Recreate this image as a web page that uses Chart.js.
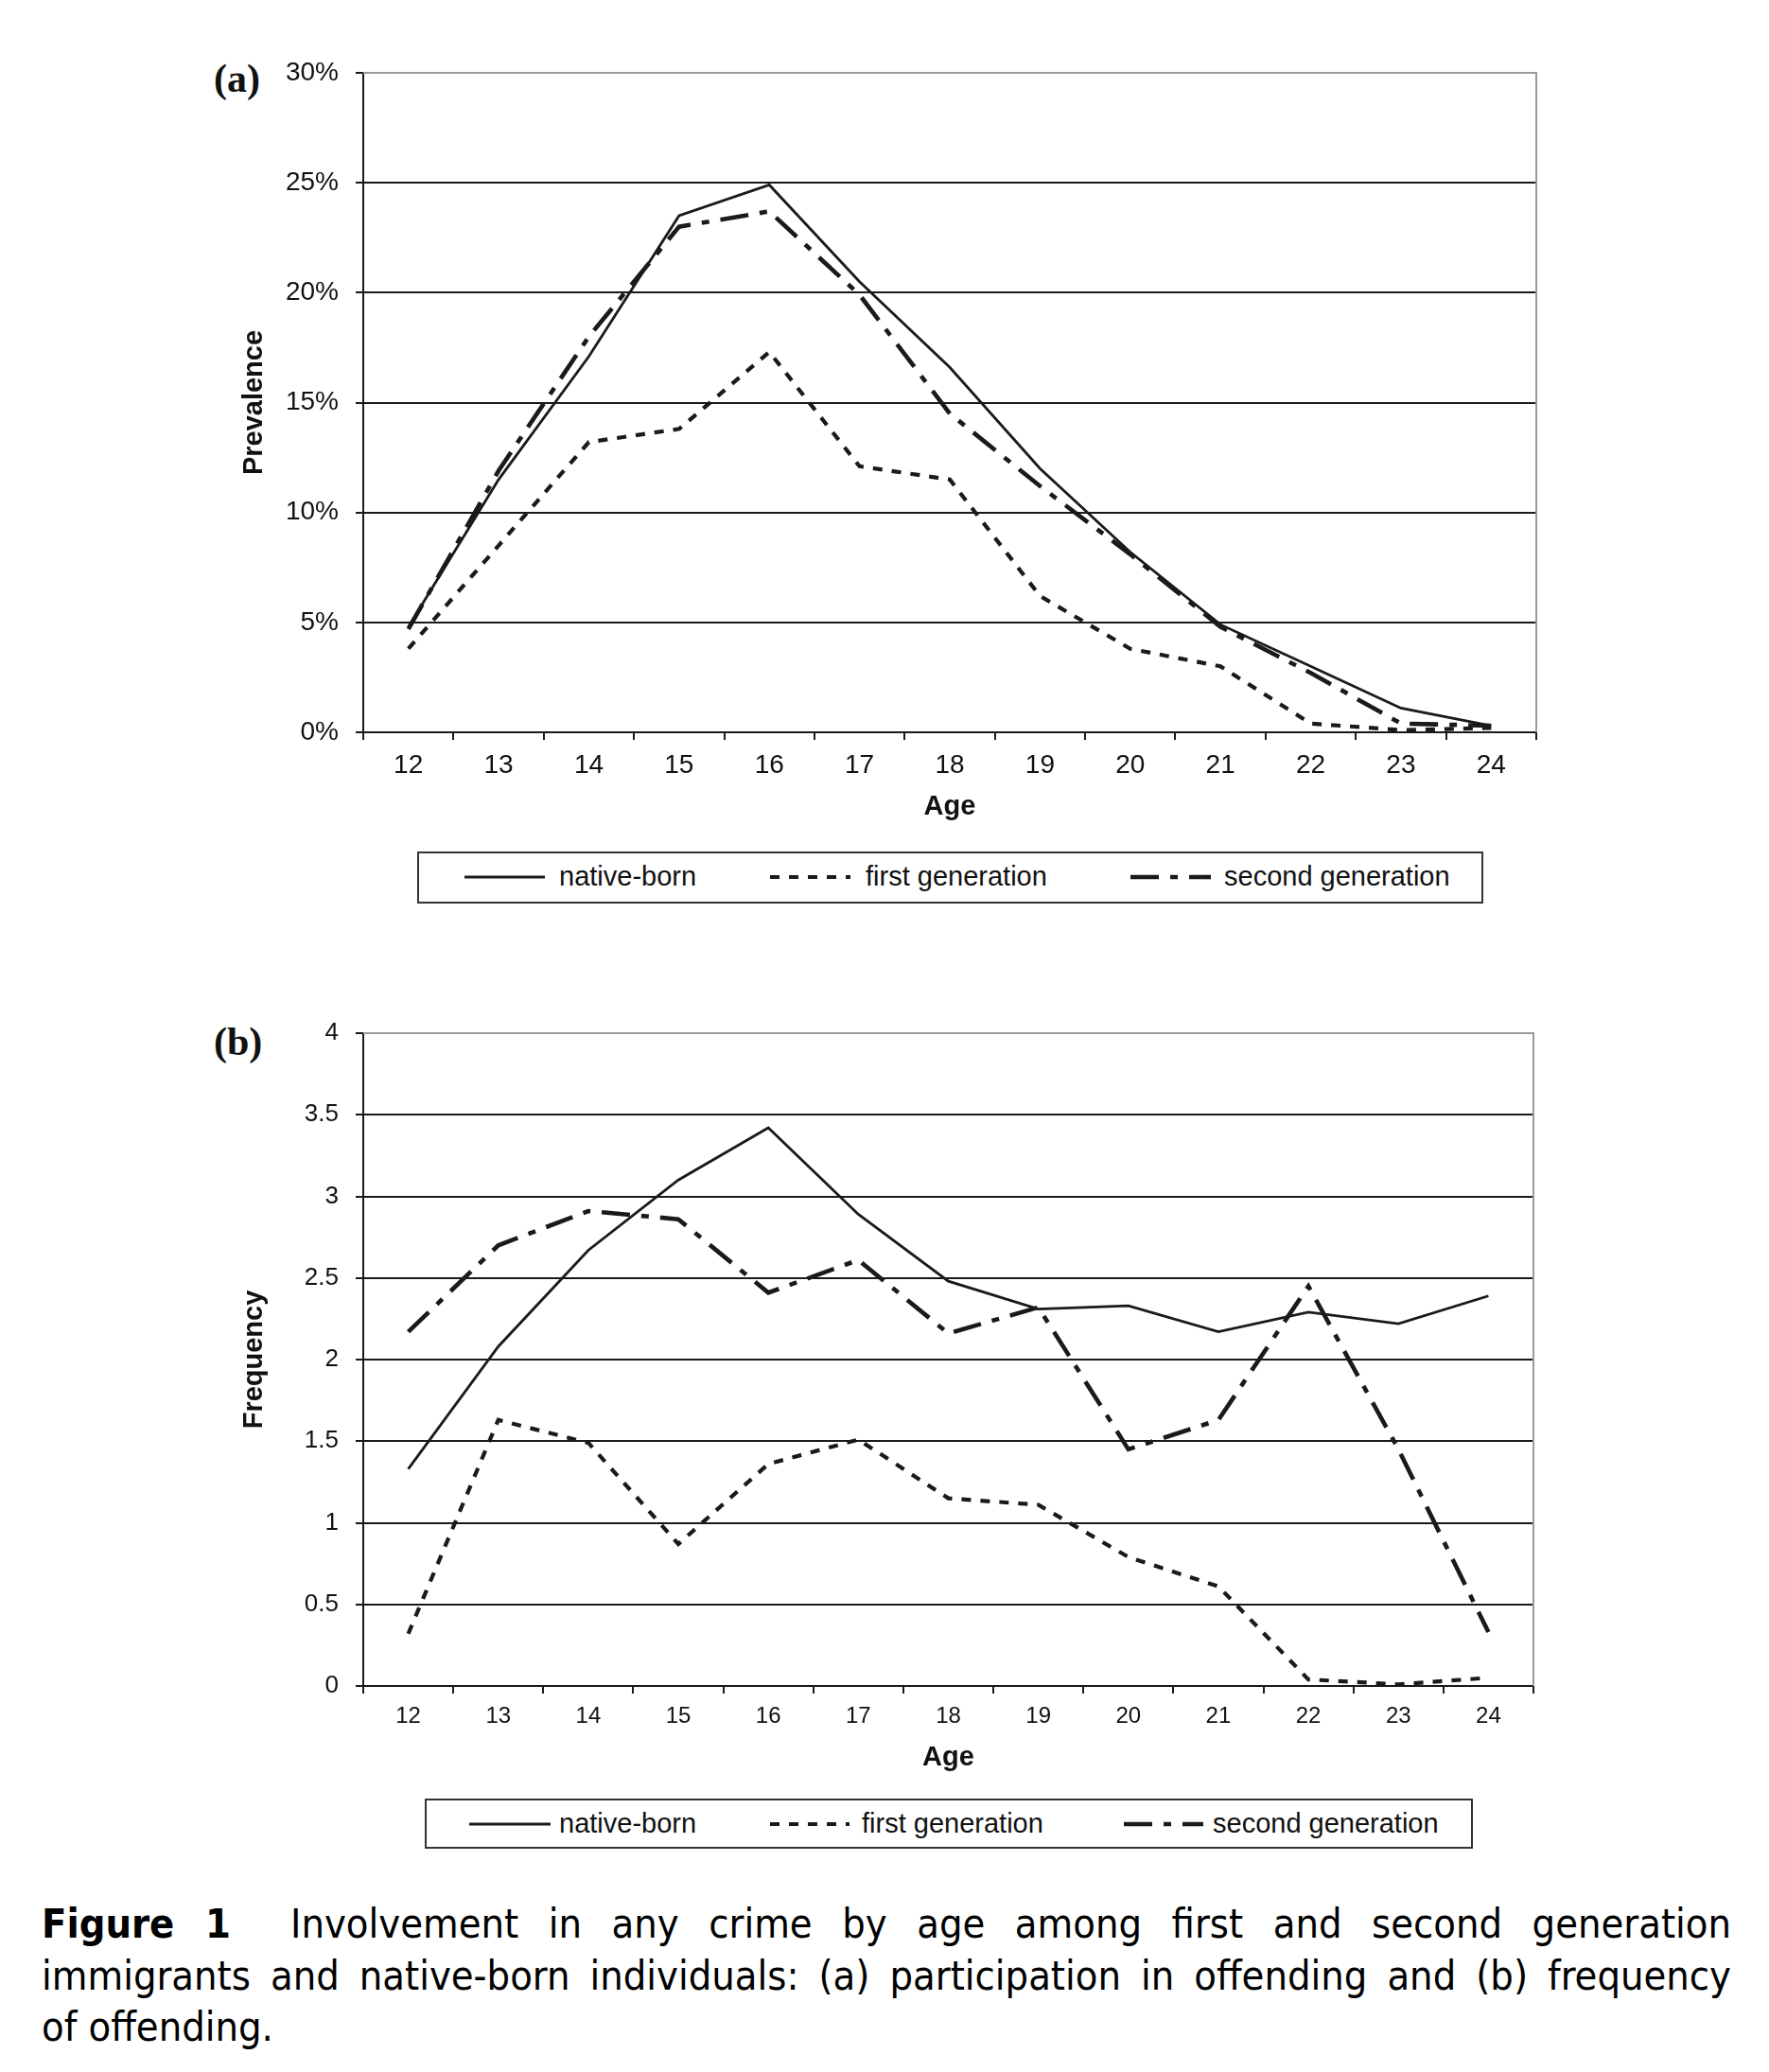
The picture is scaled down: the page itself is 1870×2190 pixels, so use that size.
<!DOCTYPE html>
<html>
<head>
<meta charset="utf-8">
<script src="https://cdn.jsdelivr.net/npm/chart.js@4.4.1/dist/chart.umd.min.js"></script>
<style>
  body { margin: 0; background: #fff; width: 1870px; height: 2190px; position: relative; overflow: hidden; font-family: "Liberation Sans", Arial, sans-serif; color: #111; }
  canvas { position: absolute; left: 0; }
  .panel { position: absolute; font-family: "Liberation Serif", "DejaVu Serif", serif; font-weight: bold; font-size: 42px; line-height: 1; }
  .legend { position: absolute; border: 2px solid #333; box-sizing: border-box; background: #fff; }
  .legend svg { position: absolute; }
  .legend span { position: absolute; font-size: 29px; line-height: 1; white-space: nowrap; }
  .caption { position: absolute; left: 44px; width: 1786px; top: 2006px; font-family: "DejaVu Sans Condensed", "DejaVu Sans", sans-serif; font-stretch: condensed; font-size: 43px; line-height: 54.6px; color: #000; }
  .caption div { white-space: nowrap; }
  .caption .j { text-align: justify; text-align-last: justify; }
</style>
</head>
<body>
<div class="panel" style="left:226px; top:62px;">(a)</div>
<div class="panel" style="left:226px; top:1080px;">(b)</div>

<canvas id="prevChart" width="1870" height="880" style="top:0;"></canvas>
<canvas id="freqChart" width="1870" height="880" style="top:1000px;"></canvas>

<div class="legend" id="legendA" style="left:441px; top:900px; width:1127px; height:55px;"></div>
<div class="legend" id="legendB" style="left:449px; top:1901px; width:1108px; height:53px;"></div>

<div class="caption">
  <div class="j"><b>Figure 1</b>&nbsp; Involvement in any crime by age among first and second generation</div>
  <div class="j">immigrants and native-born individuals: (a) participation in offending and (b) frequency</div>
  <div>of offending.</div>
</div>

<script>
// Age categories
const ages = ['12', '13', '14', '15', '16', '17', '18', '19', '20', '21', '22', '23', '24'];

// (a) Prevalence, in percent
const prevNative = [4.8, 11.5, 17.1, 23.5, 24.9, 20.5, 16.6, 12.0, 8.2, 4.9, 3.0, 1.1, 0.3];
const prevFirst  = [3.8, 8.5, 13.2, 13.8, 17.3, 12.1, 11.5, 6.2, 3.8, 3.0, 0.4, 0.1, 0.2];
const prevSecond = [4.7, 11.9, 18.0, 23.0, 23.7, 19.9, 14.5, 11.2, 8.1, 4.8, 2.7, 0.4, 0.3];

// (b) Frequency
const freqNative = [1.33, 2.08, 2.67, 3.10, 3.42, 2.89, 2.48, 2.31, 2.33, 2.17, 2.29, 2.22, 2.39];
const freqFirst  = [0.32, 1.63, 1.49, 0.87, 1.36, 1.51, 1.15, 1.11, 0.79, 0.61, 0.04, 0.01, 0.05];
const freqSecond = [2.17, 2.70, 2.91, 2.86, 2.41, 2.61, 2.16, 2.32, 1.45, 1.63, 2.45, 1.45, 0.33];

// Axis ranges
const prevMax = 30, prevStep = 5;
const freqMax = 4, freqStep = 0.5;

const seriesNames = ['native-born', 'first generation', 'second generation'];

// line styles shared by charts and legends
const styles = [
  { width: 2.8, dash: [] },
  { width: 4.2, dash: [10, 10] },
  { width: 4.6, dash: [30, 12, 8, 12] }
];

const ink = '#1a1a1a';
const frameGray = '#9a9a9a';

// draws the grey top/right frame of the plot area
const framePlugin = {
  id: 'frame',
  beforeDatasetsDraw(chart) {
    const { ctx, chartArea: a } = chart;
    ctx.save();
    ctx.strokeStyle = frameGray;
    ctx.lineWidth = 2;
    ctx.beginPath();
    ctx.moveTo(a.left, a.top);
    ctx.lineTo(a.right, a.top);
    ctx.lineTo(a.right, a.bottom);
    ctx.stroke();
    ctx.restore();
  }
};

function makeDatasets(values) {
  return values.map((data, i) => ({
    label: seriesNames[i],
    data: data,
    borderColor: ink,
    borderWidth: styles[i].width,
    borderDash: styles[i].dash,
    borderCapStyle: 'butt',
    borderJoinStyle: 'miter',
    pointRadius: 0,
    fill: false,
    tension: 0
  }));
}

function makeChart(id, opts) {
  const ctx = document.getElementById(id).getContext('2d');
  return new Chart(ctx, {
    type: 'line',
    data: { labels: ages, datasets: makeDatasets(opts.values) },
    plugins: [framePlugin],
    options: {
      responsive: false,
      devicePixelRatio: 1,
      animation: false,
      layout: { padding: { left: 236, right: opts.right, top: opts.top, bottom: 0 } },
      plugins: { legend: { display: false }, tooltip: { enabled: false } },
      scales: {
        x: {
          type: 'category',
          offset: true,
          afterFit: (scale) => { scale.height = opts.xHeight; },
          grid: { offset: true, drawOnChartArea: false, drawTicks: true, tickLength: 8, color: ink, lineWidth: 2 },
          border: { color: ink, width: 2 },
          ticks: { color: '#111', padding: 10, maxRotation: 0, autoSkip: false, font: { family: 'Liberation Sans', size: opts.xFont } },
          title: { display: true, text: 'Age', color: '#111', padding: { top: 0, bottom: opts.titlePad }, font: { family: 'Liberation Sans', size: 29, weight: 'bold' } }
        },
        y: {
          min: 0,
          max: opts.max,
          afterFit: (scale) => { scale.width = 148; },
          grid: {
            drawTicks: true,
            tickLength: 8,
            lineWidth: 2,
            color: (c) => (c.tick && c.tick.value === opts.max ? frameGray : ink),
            tickColor: ink
          },
          border: { color: ink, width: 2 },
          ticks: {
            stepSize: opts.step,
            padding: 18,
            color: '#111',
            font: { family: 'Liberation Sans', size: opts.yFont },
            callback: opts.fmt
          },
          title: { display: true, text: opts.yTitle, color: '#111', padding: { top: 16, bottom: 0 }, font: { family: 'Liberation Sans', size: 29, weight: 'bold' } }
        }
      }
    }
  });
}

makeChart('prevChart', {
  values: [prevNative, prevFirst, prevSecond],
  max: prevMax, step: prevStep,
  fmt: (v) => v + '%',
  yTitle: 'Prevalence',
  top: 77, right: 246, xHeight: 106, titlePad: 10,
  xFont: 28, yFont: 28
});

makeChart('freqChart', {
  values: [freqNative, freqFirst, freqSecond],
  max: freqMax, step: freqStep,
  fmt: (v) => String(v),
  yTitle: 'Frequency',
  top: 92, right: 249, xHeight: 98, titlePad: 5,
  xFont: 24, yFont: 26
});

// html legends with line samples
function buildLegend(id, layout) {
  const box = document.getElementById(id);
  layout.forEach((item, i) => {
    const w = item.x1 - item.x0;
    const svg = document.createElementNS('http://www.w3.org/2000/svg', 'svg');
    svg.setAttribute('width', w);
    svg.setAttribute('height', 10);
    svg.style.left = item.x0 + 'px';
    svg.style.top = (item.cy - 5) + 'px';
    const ln = document.createElementNS('http://www.w3.org/2000/svg', 'line');
    ln.setAttribute('x1', 0); ln.setAttribute('x2', w);
    ln.setAttribute('y1', 5); ln.setAttribute('y2', 5);
    ln.setAttribute('stroke', ink);
    ln.setAttribute('stroke-width', styles[i].width);
    if (styles[i].dash.length) ln.setAttribute('stroke-dasharray', styles[i].dash.join(' '));
    svg.appendChild(ln);
    box.appendChild(svg);
    const span = document.createElement('span');
    span.textContent = seriesNames[i];
    span.style.left = item.tx + 'px';
    span.style.top = (item.cy - 15) + 'px';
    box.appendChild(span);
  });
}

buildLegend('legendA', [
  { x0: 48, x1: 133, tx: 148, cy: 25 },
  { x0: 371, x1: 456, tx: 472, cy: 25 },
  { x0: 752, x1: 837, tx: 851, cy: 25 }
]);
buildLegend('legendB', [
  { x0: 45, x1: 131, tx: 140, cy: 25 },
  { x0: 363, x1: 447, tx: 460, cy: 25 },
  { x0: 737, x1: 821, tx: 831, cy: 25 }
]);
</script>
</body>
</html>
